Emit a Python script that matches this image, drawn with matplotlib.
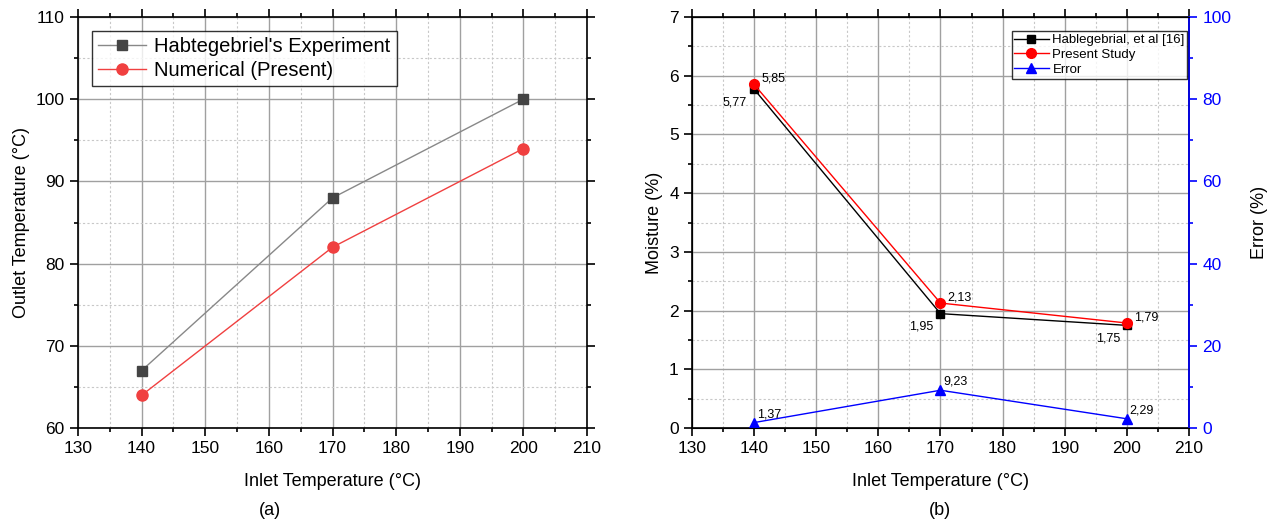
import matplotlib
matplotlib.use('Agg')
import matplotlib.pyplot as plt
from matplotlib.ticker import MultipleLocator

plt.rcParams['font.family'] = ['Liberation Sans', 'DejaVu Sans']

# data
inlet = [140, 170, 200]
outlet_exp = [67, 88, 100]
outlet_num = [64, 82, 94]

moist_ref = [5.77, 1.95, 1.75]
moist_present = [5.85, 2.13, 1.79]
error = [1.37, 9.23, 2.29]
moist_ref_lbl = ['5,77', '1,95', '1,75']
moist_present_lbl = ['5,85', '2,13', '1,79']
error_lbl = ['1,37', '9,23', '2,29']

fig = plt.figure(figsize=(12.76, 5.28), dpi=100)
ax1 = fig.add_axes([0.0611, 0.189, 0.3990, 0.779])
ax2 = fig.add_axes([0.5423, 0.189, 0.3895, 0.779])


def style(ax):
    ax.xaxis.set_major_locator(MultipleLocator(10))
    ax.xaxis.set_minor_locator(MultipleLocator(5))
    ax.grid(which='major', color='#a0a0a0', lw=1.0, ls='-')
    ax.grid(which='minor', color='#c8c8c8', lw=0.8, ls=(0, (2, 2)))
    ax.set_axisbelow(True)
    ax.tick_params(which='both', direction='out', labelsize=12.5, width=1.2)
    ax.tick_params(which='major', length=6)
    ax.tick_params(which='minor', length=3)
    for s in ax.spines.values():
        s.set_linewidth(1.2)


# (a)
ax1.plot(inlet, outlet_exp, color='#888888', lw=1, marker='s', ms=7,
         mfc='#444444', mec='#444444', label="Habtegebriel's Experiment")
ax1.plot(inlet, outlet_num, color='#f04040', lw=1, marker='o', ms=8,
         mfc='#f04040', mec='#f04040', label='Numerical (Present)')
ax1.set_xlim(130, 210)
ax1.set_ylim(60, 110)
ax1.yaxis.set_major_locator(MultipleLocator(10))
ax1.yaxis.set_minor_locator(MultipleLocator(5))
style(ax1)
ax1.tick_params(which='both', top=True, right=True, direction='out')
ax1.set_xlabel('Inlet Temperature (°C)', fontsize=13, labelpad=12)
ax1.set_ylabel('Outlet Temperature (°C)', fontsize=13)
leg = ax1.legend(loc='upper left', fontsize=14.5, frameon=True, fancybox=False,
                 edgecolor='black', borderpad=0.3, labelspacing=0.25,
                 handlelength=2.4, handletextpad=0.4, borderaxespad=0.7)
leg.get_frame().set_linewidth(1.0)
fig.text(0.2116, 0.025, '(a)', ha='center', fontsize=13)

# (b)
ax2.plot(inlet, moist_ref, color='black', lw=1, marker='s', ms=6,
         label='Hablegebrial, et al [16]')
ax2.plot(inlet, moist_present, color='red', lw=1, marker='o', ms=7,
         label='Present Study')
ax2.set_xlim(130, 210)
ax2.set_ylim(0, 7)
ax2.yaxis.set_major_locator(MultipleLocator(1))
ax2.yaxis.set_minor_locator(MultipleLocator(0.5))
style(ax2)
ax2.tick_params(which='both', top=True)
ax2.set_xlabel('Inlet Temperature (°C)', fontsize=13, labelpad=12)
ax2.set_ylabel('Moisture (%)', fontsize=13)

for x, y, t in zip(inlet, moist_present, moist_present_lbl):
    ax2.annotate(t, (x, y), xytext=(5, 2), textcoords='offset points', fontsize=9)
for x, y, t in zip(inlet, moist_ref, moist_ref_lbl):
    ax2.annotate(t, (x, y), xytext=(-5, -5), textcoords='offset points',
                 fontsize=9, ha='right', va='top')

ax3 = ax2.twinx()
ax3.plot(inlet, error, color='blue', lw=1, marker='^', ms=7, label='Error')
ax3.set_ylim(0, 100)
ax3.yaxis.set_major_locator(MultipleLocator(20))
ax3.yaxis.set_minor_locator(MultipleLocator(10))
ax3.tick_params(which='both', direction='out', labelsize=12.5, colors='blue', width=1.2)
ax3.tick_params(which='major', length=6)
ax3.tick_params(which='minor', length=3)
ax3.spines['right'].set_color('blue')
ax3.spines['right'].set_linewidth(1.2)
ax3.set_ylabel('Error (%)', fontsize=13, labelpad=14)
for x, y, t in zip(inlet, error, error_lbl):
    ax3.annotate(t, (x, y), xytext=(2, 4), textcoords='offset points', fontsize=9)

h1, l1 = ax2.get_legend_handles_labels()
h2, l2 = ax3.get_legend_handles_labels()
leg2 = ax3.legend(h1 + h2, l1 + l2, loc='upper right', bbox_to_anchor=(0.997, 0.965),
                  fontsize=9.5, frameon=True, fancybox=False, edgecolor='black',
                  borderpad=0.2, labelspacing=0.2, handlelength=2.6,
                  handletextpad=0.3, borderaxespad=0.0)
leg2.get_frame().set_linewidth(1.0)
fig.text(0.737, 0.025, '(b)', ha='center', fontsize=13)

fig.savefig('out.png', dpi=100)
